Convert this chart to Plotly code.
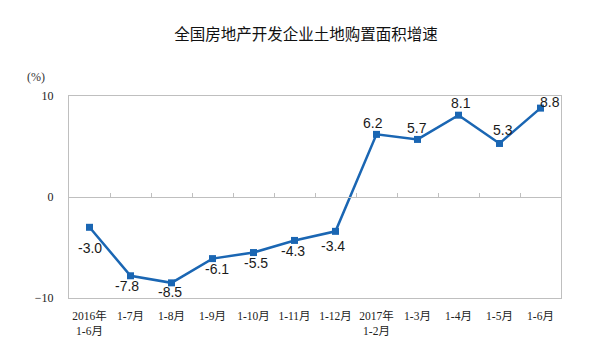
import plotly.graph_objects as go

categories = ["2016年<br>1-6月", "1-7月", "1-8月", "1-9月", "1-10月", "1-11月", "1-12月",
              "2017年<br>1-2月", "1-3月", "1-4月", "1-5月", "1-6月"]
values = [-3.0, -7.8, -8.5, -6.1, -5.5, -4.3, -3.4, 6.2, 5.7, 8.1, 5.3, 8.8]
y_ticks = [-10, 0, 10]
title_text = "全国房地产开发企业土地购置面积增速"
unit_text = "(%)"

# label offsets in pixels (style only)
label_dx = [0, -4, -2, 4, 2, -2, -3, -4, -1, 2, 3, 9]
label_dy = [-21, -10, -9, -10, -10, -11, -15, 11, 11, 12, 13, 6]

LINE = "#1a66b3"
GREY = "#bfbfbf"
idx = list(range(len(categories)))

# page body has an 8px default margin; size figure so the plot lands where the reference's does
W, H = 600, 349
L, R, T, B = 61, 47, 88, 59
PH = H - T - B

fig = go.Figure()
fig.add_trace(go.Scatter(
    x=idx, y=values, mode="lines+markers",
    line=dict(color=LINE, width=2.5),
    marker=dict(symbol="square", size=7, color=LINE),
    hoverinfo="skip", showlegend=False,
))
# invisible trace to carry the zero-crossing axis
fig.add_trace(go.Scatter(x=idx, y=[0] * len(idx), xaxis="x2", mode="lines",
                         line=dict(width=0), opacity=0, hoverinfo="skip", showlegend=False))

for i, v in enumerate(values):
    fig.add_annotation(x=i, y=v, text=f"{v:.1f}", showarrow=False,
                       xshift=label_dx[i], yshift=label_dy[i],
                       xanchor="center", yanchor="middle",
                       font=dict(family="Liberation Sans, Arial", size=14, color="#1a1a1a"))

fig.add_annotation(xref="paper", yref="paper", x=-33 / (W - L - R), y=1 + 19 / PH,
                   xanchor="center", yanchor="middle",
                   text=unit_text, showarrow=False,
                   font=dict(family="Liberation Serif, Noto Sans CJK SC", size=12, color="#333"))

fig.update_layout(
    width=W, height=H,
    margin=dict(l=L, r=R, t=T, b=B),
    paper_bgcolor="white", plot_bgcolor="white",
    title=dict(text=title_text, x=(306 - 8) / W, xanchor="center", y=1 - 27 / H, yanchor="middle",
               font=dict(family="Noto Sans CJK SC", size=15.5, color="#111")),
    xaxis=dict(range=[-0.5, 11.5], tickvals=idx, ticktext=categories,
               showline=True, linecolor=GREY, linewidth=1, mirror=True,
               showgrid=False, zeroline=False, ticks="", ticklabelstandoff=7,
               tickfont=dict(family="Liberation Serif, Noto Sans CJK SC", size=11.5, color="#222")),
    xaxis2=dict(range=[-0.5, 11.5], overlaying="x", anchor="free", position=0.5,
                tickvals=[i + 0.5 for i in idx[:-1]], ticks="inside", ticklen=4,
                tickcolor=GREY, showticklabels=False, showline=True, linecolor=GREY,
                linewidth=1, showgrid=False, zeroline=False),
    yaxis=dict(range=[-10, 10], tickvals=y_ticks, showline=True, linecolor=GREY,
               linewidth=1, mirror=True, showgrid=False, zeroline=False, ticks="",
               ticklabelstandoff=12,
               tickfont=dict(family="Liberation Serif, Noto Sans CJK SC", size=12, color="#222")),
)

fig.write_html("out.html")
